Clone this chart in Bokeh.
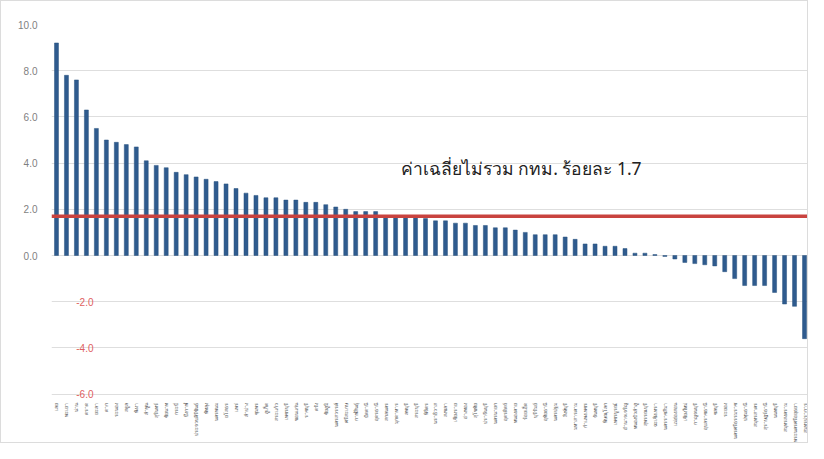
import math
from bokeh.plotting import figure
from bokeh.models import FixedTicker, Span, Label, Range1d, FactorRange, PrintfTickFormatter, ColumnDataSource
from bokeh.embed import file_html
from bokeh.resources import INLINE

provinces = [
    "เลย", "พะเยา", "น่าน", "ตราด", "ยะลา", "ตาก", "ระนอง", "สตูล", "พังงา", "ลำพูน",
    "สุรินทร์", "ชัยนาท", "กระบี่", "บึงกาฬ", "ประจวบคีรีขันธ์", "พัทลุง", "นครพนม", "ยโสธร", "แพร่", "ลำปาง",
    "ชุมพร", "ภูเก็ต", "สระแก้ว", "เพชรบุรี", "ขอนแก่น", "ราชบุรี", "ตรัง", "ชัยภูมิ", "นครสวรรค์", "ศรีสะเกษ",
    "กาฬสินธุ์", "ปัตตานี", "อุดรธานี", "สกลนคร", "มุกดาหาร", "ลพบุรี", "สระบุรี", "พิจิตร", "นราธิวาส", "สงขลา",
    "เชียงราย", "อ่างทอง", "สุโขทัย", "ปราจีนบุรี", "นครนายก", "อุตรดิตถ์", "หนองคาย", "ร้อยเอ็ด", "บุรีรัมย์", "อุทัยธานี",
    "นครปฐม", "สิงห์บุรี", "มหาสารคาม", "กำแพงเพชร", "จันทบุรี", "พิษณุโลก", "เพชรบูรณ์", "อำนาจเจริญ", "หนองบัวลำภู", "สุพรรณบุรี",
    "ฉะเชิงเทรา", "นครราชสีมา", "แม่ฮ่องสอน", "เชียงใหม่", "กาญจนบุรี", "อุบลราชธานี", "ชลบุรี", "ระยอง", "นครศรีธรรมราช", "ปทุมธานี",
    "สมุทรสาคร", "สุราษฎร์ธานี", "นนทบุรี", "สมุทรสงคราม", "พระนครศรีอยุธยา", "สมุทรปราการ",
]

values = [
    9.2, 7.8, 7.6, 6.3, 5.5, 5.0, 4.9, 4.8, 4.7, 4.1,
    3.9, 3.8, 3.6, 3.5, 3.4, 3.3, 3.2, 3.1, 2.9, 2.7,
    2.6, 2.5, 2.5, 2.4, 2.4, 2.3, 2.3, 2.2, 2.1, 2.0,
    1.9, 1.9, 1.9, 1.7, 1.7, 1.7, 1.7, 1.6, 1.5, 1.5,
    1.4, 1.4, 1.3, 1.3, 1.2, 1.2, 1.1, 1.0, 0.9, 0.9,
    0.9, 0.8, 0.7, 0.5, 0.5, 0.4, 0.4, 0.3, 0.1, 0.1,
    0.04, -0.04, -0.15, -0.3, -0.35, -0.4, -0.45, -0.7, -1.0, -1.3,
    -1.3, -1.3, -1.6, -2.1, -2.2, -3.6,
]

average = 1.7
note = "ค่าเฉลี่ยไม่รวม กทม. ร้อยละ 1.7"
pos_ticks = [0, 2, 4, 6, 8, 10]
neg_ticks = [-2, -4, -6]
neg_tick_labels = ["-2.0", "-4.0", "-6.0"]

src = ColumnDataSource(dict(x=provinces, top=values))

p = figure(
    x_range=FactorRange(*provinces), y_range=Range1d(-6.32, 10),
    width=808, height=443, output_backend="svg", toolbar_location=None,
    min_border_left=50, min_border_right=0, min_border_top=23, min_border_bottom=38,
)
p.styles = {"border": "1px solid #dcdcdc"}
p.outline_line_color = None
p.background_fill_color = "white"

p.vbar(x="x", top="top", bottom=0, width=0.4, source=src,
       fill_color="#2f5b8e", line_color="#29527f", line_width=0.5)

p.add_layout(Span(location=average, dimension="width", line_color="#c9433f", line_width=3.5))

p.yaxis.ticker = FixedTicker(ticks=pos_ticks)
p.yaxis.formatter = PrintfTickFormatter(format="%.1f")
p.yaxis.axis_line_color = None
p.yaxis.major_tick_line_color = None
p.yaxis.minor_tick_line_color = None
p.yaxis.major_label_standoff = 8
p.yaxis.major_label_text_font = "Liberation Sans"
p.yaxis.major_label_text_font_size = "10px"
p.yaxis.major_label_text_color = "#7f7f7f"

p.ygrid.ticker = FixedTicker(ticks=neg_ticks + pos_ticks)
p.ygrid.grid_line_color = "#dedede"
p.xgrid.grid_line_color = None

for t, lab in zip(neg_ticks, neg_tick_labels):
    p.add_layout(Label(x=42, x_units="screen", y=t, y_units="data", text=lab,
                       text_align="right", text_baseline="middle",
                       text_font="Liberation Sans", text_font_size="10px", text_color="#e06060"))

p.xaxis.major_label_orientation = math.pi / 2
p.xaxis.axis_line_color = None
p.xaxis.major_tick_line_color = None
p.xaxis.major_tick_out = 0
p.xaxis.major_label_standoff = 1
p.xaxis.major_label_text_font_size = "5px"
p.xaxis.major_label_text_color = "#555555"

p.add_layout(Label(x=35.0, y=3.8, text=note, text_baseline="middle",
                   text_font="Noto Sans", text_font_size="17.5px", text_color="#222222"))

open("out.html", "w").write(file_html(p, INLINE))
